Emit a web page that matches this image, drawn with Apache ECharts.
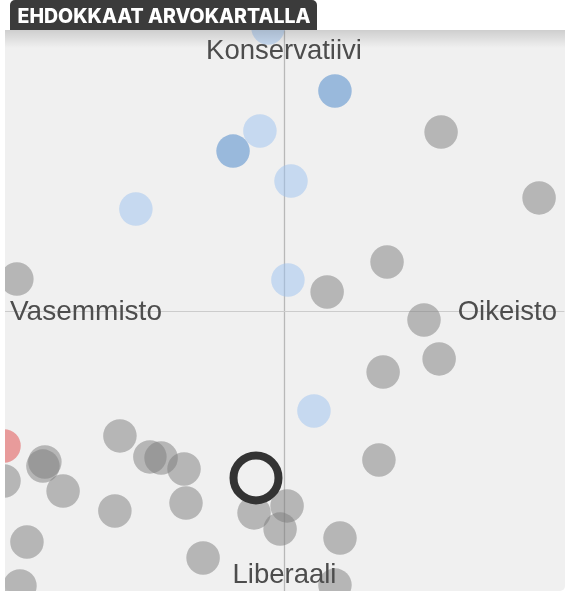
<!DOCTYPE html>
<html>
<head>
<meta charset="utf-8">
<script src="https://cdn.jsdelivr.net/npm/echarts@6/dist/echarts.min.js"></script>
<style>
html,body{margin:0;padding:0;background:#fff;}
#c{width:574px;height:600px;}
</style>
</head>
<body>
<div id="c"></div>
<script>
// Values on a -100..100 scale (x: vasemmisto -> oikeisto, y: liberaali -> konservatiivi)
const grayPoints = [
  [56.1, 63.9], [91.1, 40.4], [-95.4, 11.4], [36.8, 17.5], [15.4, 6.8],
  [50.0, -3.2], [55.4, -17.1], [35.4, -21.8], [33.9, -53.2], [-58.6, -44.6],
  [-47.9, -52.1], [-43.9, -52.5], [-35.7, -56.4], [-85.4, -53.9], [-86.1, -55.4],
  [-100.0, -60.7], [-78.9, -64.3], [-35.0, -68.6], [-60.4, -71.4], [-91.8, -82.5],
  [-94.3, -98.2], [-28.9, -88.2], [-10.7, -72.1], [1.1, -69.6], [-1.4, -77.9],
  [20.0, -81.1], [18.2, -97.9]
];
const lightBluePoints = [
  [-8.6, 64.3], [2.5, 46.4], [-52.9, 36.4], [1.4, 11.1], [10.7, -35.7], [-5.7, 101.1]
];
const darkBluePoints = [
  [18.2, 78.6], [-18.2, 57.1]
];
const redPoints = [
  [-100.0, -48.2]
];
const userPoint = [
  [-10.0, -59.6]
];
const axisLabels = {
  top: 'Konservatiivi',
  bottom: 'Liberaali',
  left: 'Vasemmisto',
  right: 'Oikeisto'
};
const titleText = 'EHDOKKAAT ARVOKARTALLA';

const chart = echarts.init(document.getElementById('c'), null, {renderer: 'canvas'});
const labelFont = '"Liberation Sans", Arial, sans-serif';

function dotSeries(data, color) {
  return {
    type: 'scatter',
    data: data,
    symbol: 'circle',
    symbolSize: 33.5,
    clip: false,
    silent: true,
    itemStyle: {color: color, opacity: 1},
    emphasis: {disabled: true},
    z: 3
  };
}

chart.setOption({
  animation: false,
  backgroundColor: '#ffffff',
  grid: {left: 4, top: 31, width: 560, height: 560, show: false},
  xAxis: {
    type: 'value', min: -100, max: 100,
    axisLine: {show: true, onZero: true, lineStyle: {color: '#cccccc', width: 1}},
    axisTick: {show: false}, axisLabel: {show: false}, splitLine: {show: false}
  },
  yAxis: {
    type: 'value', min: -100, max: 100,
    axisLine: {show: true, onZero: true, lineStyle: {color: '#b8b8b8', width: 1.3}},
    axisTick: {show: false}, axisLabel: {show: false}, splitLine: {show: false}
  },
  series: [
    dotSeries(grayPoints, 'rgba(124,124,124,0.5)'),
    dotSeries(lightBluePoints, 'rgba(156,194,240,0.5)'),
    dotSeries(darkBluePoints, 'rgba(66,130,200,0.5)'),
    dotSeries(redPoints, 'rgba(224,70,70,0.5)'),
    {
      type: 'scatter',
      data: userPoint,
      symbol: 'circle',
      symbolSize: 45,
      clip: false,
      silent: true,
      itemStyle: {color: 'rgba(0,0,0,0)', borderColor: '#333333', borderWidth: 8, opacity: 1},
      emphasis: {disabled: true},
      z: 5
    }
  ],
  graphic: [
    {type: 'rect', z: -1, silent: true, shape: {x: 5, y: 30, width: 560, height: 561, r: [0, 0, 5, 5]}, style: {fill: '#f0f0f0'}},
    // masks outside the plot square
    {type: 'rect', z: 100, silent: true, shape: {x: 0, y: 0, width: 5, height: 600}, style: {fill: '#ffffff'}},
    {type: 'rect', z: 100, silent: true, shape: {x: 565, y: 0, width: 9, height: 600}, style: {fill: '#ffffff'}},
    {type: 'rect', z: 100, silent: true, shape: {x: 0, y: 591, width: 574, height: 9}, style: {fill: '#ffffff'}},
    {type: 'rect', z: 100, silent: true, shape: {x: 0, y: 0, width: 574, height: 30}, style: {fill: '#ffffff'}},
    // top inner shadow
    {type: 'rect', z: 99, silent: true, shape: {x: 5, y: 30, width: 560, height: 18},
      style: {fill: new echarts.graphic.LinearGradient(0, 0, 0, 1, [
        {offset: 0, color: 'rgba(0,0,0,0.14)'}, {offset: 1, color: 'rgba(0,0,0,0)'}
      ])}},
    // title tag
    {type: 'rect', z: 101, silent: true, shape: {x: 10, y: 0, width: 307, height: 30, r: [5, 5, 0, 0]}, style: {fill: '#3b3b3b'}},
    {type: 'text', z: 102, silent: true, x: 164, y: 17,
      style: {text: titleText, fill: '#ffffff', font: '800 19.5px Inter, "Open Sans", sans-serif', textAlign: 'center', textVerticalAlign: 'middle'}},
    // quadrant labels
    {type: 'text', z: 102, silent: true, x: 284, y: 51,
      style: {text: axisLabels.top, fill: '#4d4d4d', font: '27.5px ' + labelFont, textAlign: 'center', textVerticalAlign: 'middle'}},
    {type: 'text', z: 102, silent: true, x: 284.5, y: 575,
      style: {text: axisLabels.bottom, fill: '#4d4d4d', font: '27.5px ' + labelFont, textAlign: 'center', textVerticalAlign: 'middle'}},
    {type: 'text', z: 102, silent: true, x: 10, y: 312,
      style: {text: axisLabels.left, fill: '#4d4d4d', font: '28px ' + labelFont, textAlign: 'left', textVerticalAlign: 'middle'}},
    {type: 'text', z: 102, silent: true, x: 557, y: 312,
      style: {text: axisLabels.right, fill: '#4d4d4d', font: '27.5px ' + labelFont, textAlign: 'right', textVerticalAlign: 'middle'}}
  ]
});
</script>
</body>
</html>
